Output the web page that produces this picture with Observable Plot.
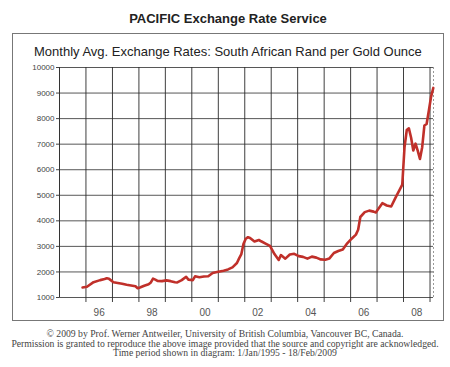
<!DOCTYPE html>
<html><head><meta charset="utf-8">
<script src="https://cdn.jsdelivr.net/npm/d3@7"></script>
<script src="https://cdn.jsdelivr.net/npm/@observablehq/plot@0.6"></script>
<style>
body{margin:0;background:#fff;width:450px;height:367px;position:relative;overflow:hidden;font-family:"Liberation Sans",Arial,sans-serif}
#title{position:absolute;top:11px;left:0;width:456px;text-align:center;font-weight:bold;font-size:13px;color:#222}
#frame{position:absolute;left:12px;top:33px;width:432px;height:288px;border:1px solid #777;box-sizing:border-box}
#sub{position:absolute;left:34px;top:44px;font-size:13px;color:#222;white-space:nowrap}
#chart{position:absolute;left:0;top:55px}
#foot{position:absolute;top:329px;left:0;width:450px;text-align:center;font-family:"Liberation Serif",serif;font-size:9.7px;line-height:9.6px;color:#444;white-space:nowrap}
</style>
</head><body>
<div id="title">PACIFIC Exchange Rate Service</div>
<div id="frame"></div>
<div id="sub">Monthly Avg. Exchange Rates: South African Rand per Gold Ounce</div>
<div id="chart"></div>
<div id="foot">© 2009 by Prof. Werner Antweiler, University of British Columbia, Vancouver BC, Canada.<br>Permission is granted to reproduce the above image provided that the source and copyright are acknowledged.<br>Time period shown in diagram: 1/Jan/1995 - 18/Feb/2009</div>
<script>
const months = ["1995-11","1996-01","1996-04","1996-07","1996-09","1996-10","1996-11","1997-01","1997-03","1997-05","1997-07","1997-09","1997-11","1997-12",
"1998-01","1998-03","1998-05","1998-06","1998-07","1998-08","1998-09","1998-11","1999-01","1999-03","1999-05","1999-06","1999-08","1999-10","1999-11",
"2000-01","2000-02","2000-04","2000-06","2000-08","2000-10","2000-12","2001-03","2001-05","2001-07","2001-09","2001-10","2001-11","2001-12",
"2002-01","2002-02","2002-03","2002-05","2002-07","2002-08","2002-10","2002-12","2003-02","2003-04","2003-05","2003-07","2003-09","2003-11",
"2004-01","2004-03","2004-05","2004-07","2004-09","2004-11","2005-01","2005-03","2005-05","2005-07","2005-09","2005-11",
"2006-01","2006-03","2006-04","2006-05","2006-07","2006-09","2006-11","2006-12","2007-01","2007-03","2007-05","2007-07","2007-09","2007-11","2007-12",
"2008-01","2008-02","2008-03","2008-04","2008-05","2008-06","2008-07","2008-08","2008-09","2008-10","2008-11","2008-12","2009-01","2009-02"];
const rand = [1390,1420,1600,1680,1720,1750,1730,1600,1570,1540,1500,1470,1440,1360,
1390,1460,1520,1590,1740,1700,1650,1640,1670,1640,1600,1590,1680,1810,1700,
1680,1830,1790,1820,1830,1960,2000,2050,2100,2180,2350,2530,2700,3100,
3300,3360,3330,3190,3250,3200,3110,3020,2700,2470,2660,2520,2680,2710,
2620,2590,2520,2600,2560,2490,2480,2530,2740,2820,2880,3120,
3300,3460,3650,4150,4340,4400,4360,4330,4450,4690,4600,4560,4920,5250,5420,
6880,7550,7620,7250,6750,7020,6750,6420,6880,7730,7790,8300,8850,9200];
const yTicks = [1000,2000,3000,4000,5000,6000,7000,8000,9000,10000];
const gridYears = [1996,1997,1998,1999,2000,2001,2002,2003,2004,2005,2006,2007,2008,2009];
const labelYears = [1996,1998,2000,2002,2004,2006,2008];
const xTickLabels = ["96","98","00","02","04","06","08"];
const periodStart = "1995-01-01", periodEnd = "2009-02-18";

const data = months.map((m, i) => ({date: new Date(m + "-15"), v: rand[i]}));
const yearDates = gridYears.map(y => new Date(Date.UTC(y, 0, 1)));
const midDates = labelYears.map(y => new Date(Date.UTC(y, 6, 1)));
const labelOf = new Map(midDates.map((d, i) => [+d, xTickLabels[i]]));
const x0 = new Date(periodStart), x1 = new Date(periodEnd);

const chart = Plot.plot({
  width: 450, height: 265,
  marginTop: 12, marginBottom: 23, marginLeft: 59, marginRight: 17,
  style: {background: "transparent", fontFamily: "Liberation Sans, Arial, sans-serif"},
  x: {type: "utc", domain: [x0, x1]},
  y: {domain: [1000, 10000]},
  marks: [
    Plot.ruleY(yTicks, {stroke: "#3a3a3a", strokeWidth: 1, strokeOpacity: 0.85}),
    Plot.ruleX(yearDates, {stroke: "#2a2a2a", strokeWidth: 1, insetBottom: -5, strokeOpacity: 0.9}),
    Plot.ruleX([x0], {stroke: "#333", strokeWidth: 1}),
    Plot.ruleX([x1], {stroke: "#999", strokeWidth: 1, strokeDasharray: "2,2"}),
    Plot.line(data, {x: "date", y: "v", stroke: "#c0302a", strokeWidth: 2.6, curve: "linear"}),
    Plot.axisY({ticks: yTicks, tickSize: 3, tickPadding: 2, tickFormat: d => String(d), fontSize: 8, color: "#444", label: null}),
    Plot.axisX({ticks: midDates, tickSize: 0, tickPadding: 11, tickFormat: d => labelOf.get(+d), fontSize: 10, color: "#555", label: null})
  ]
});
document.getElementById("chart").appendChild(chart);
</script>
</body></html>
